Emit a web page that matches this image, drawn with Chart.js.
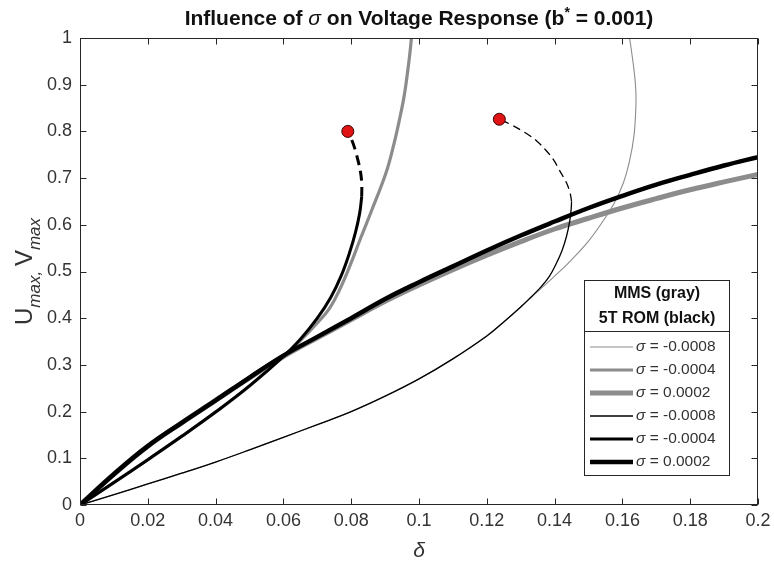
<!DOCTYPE html>
<html>
<head>
<meta charset="utf-8">
<script src="https://cdn.jsdelivr.net/npm/chart.js@4.4.1/dist/chart.umd.min.js"></script>
<style>
  html, body { margin: 0; padding: 0; background: #fff; }
</style>
</head>
<body>
<canvas id="chart" width="774" height="569"></canvas>
<script>
// MMS curves (gray)
const mmsThinX = [0, 0.01, 0.02, 0.03, 0.04, 0.05, 0.06, 0.07, 0.08, 0.09, 0.1, 0.11, 0.12, 0.125, 0.13, 0.135, 0.14, 0.145, 0.15, 0.154, 0.1575, 0.1603, 0.1622, 0.1634, 0.1639, 0.164, 0.1636, 0.163, 0.1621, 0.161];
const mmsThinY = [0, 0.022, 0.045, 0.068, 0.092, 0.118, 0.145, 0.172, 0.2, 0.233, 0.27, 0.313, 0.362, 0.392, 0.424, 0.457, 0.49, 0.525, 0.565, 0.605, 0.645, 0.69, 0.74, 0.79, 0.84, 0.88, 0.92, 0.955, 1.0, 1.04];
const mmsMidX = [0, 0.01, 0.02, 0.03, 0.04, 0.05, 0.06, 0.065, 0.07, 0.0735, 0.0765, 0.0795, 0.0826, 0.086, 0.0903, 0.0925, 0.0942, 0.0956, 0.0967, 0.0975, 0.0981];
const mmsMidY = [0, 0.048, 0.097, 0.147, 0.199, 0.255, 0.318, 0.352, 0.39, 0.42, 0.46, 0.51, 0.568, 0.63, 0.712, 0.77, 0.824, 0.875, 0.931, 0.98, 1.03];
const mmsThickX = [0, 0.01, 0.02, 0.03, 0.04, 0.05, 0.06, 0.07, 0.08, 0.09, 0.1, 0.11, 0.12, 0.13, 0.14, 0.15, 0.16, 0.17, 0.18, 0.19, 0.2];
const mmsThickY = [0, 0.066, 0.126, 0.176, 0.224, 0.272, 0.318, 0.358, 0.397, 0.436, 0.471, 0.504, 0.535, 0.564, 0.591, 0.614, 0.636, 0.656, 0.675, 0.692, 0.708];

// 5T ROM curves (black), solid part then dashed continuation
const romThinX = [0, 0.01, 0.02, 0.03, 0.04, 0.05, 0.06, 0.07, 0.08, 0.09, 0.1, 0.11, 0.12, 0.125, 0.13, 0.133, 0.136, 0.1385, 0.1405, 0.1422, 0.1435, 0.1444, 0.1449, 0.145];
const romThinY = [0, 0.022, 0.045, 0.068, 0.092, 0.118, 0.145, 0.172, 0.2, 0.233, 0.27, 0.313, 0.362, 0.392, 0.424, 0.445, 0.467, 0.49, 0.517, 0.545, 0.575, 0.605, 0.635, 0.65];
const romThinDashX = [0.145, 0.1446, 0.1435, 0.1414, 0.1398, 0.1375, 0.1348, 0.1316, 0.1267, 0.1237];
const romThinDashY = [0.65, 0.667, 0.69, 0.717, 0.738, 0.759, 0.779, 0.796, 0.816, 0.826];
const romMidX = [0, 0.01, 0.02, 0.03, 0.04, 0.05, 0.06, 0.065, 0.07, 0.074, 0.077, 0.0795, 0.0813, 0.0825, 0.0831];
const romMidY = [0, 0.048, 0.097, 0.147, 0.199, 0.255, 0.318, 0.355, 0.4, 0.445, 0.49, 0.54, 0.585, 0.625, 0.66];
const romMidDashX = [0.0831, 0.0831, 0.0827, 0.082, 0.0812, 0.0802, 0.079];
const romMidDashY = [0.66, 0.69, 0.715, 0.738, 0.76, 0.781, 0.8];
const romThickX = [0, 0.01, 0.02, 0.03, 0.04, 0.05, 0.06, 0.07, 0.08, 0.09, 0.1, 0.11, 0.12, 0.13, 0.14, 0.15, 0.16, 0.17, 0.18, 0.19, 0.2];
const romThickY = [0, 0.066, 0.126, 0.176, 0.224, 0.273, 0.32, 0.36, 0.4, 0.441, 0.477, 0.511, 0.545, 0.577, 0.607, 0.636, 0.662, 0.686, 0.707, 0.727, 0.745];

// end points of the ROM branches
const markerX = [0.079, 0.1237];
const markerY = [0.8, 0.826];

const sigmaLabels = ['-0.0008', '-0.0004', '0.0002'];
const xTicks = [0, 0.02, 0.04, 0.06, 0.08, 0.1, 0.12, 0.14, 0.16, 0.18, 0.2];
const xTickLabels = ['0', '0.02', '0.04', '0.06', '0.08', '0.1', '0.12', '0.14', '0.16', '0.18', '0.2'];
const yTicks = [0, 0.1, 0.2, 0.3, 0.4, 0.5, 0.6, 0.7, 0.8, 0.9, 1];
const yTickLabels = ['0', '0.1', '0.2', '0.3', '0.4', '0.5', '0.6', '0.7', '0.8', '0.9', '1'];

const FONT = '"Liberation Sans", Arial, Helvetica, sans-serif';
const GRAY = 'rgb(140,140,140)';
const AXIS = '#262626';
const TEXT = '#333';

const pts = (xs, ys) => xs.map((x, i) => ({x: x, y: ys[i]}));

function line(label, xs, ys, color, width, order, dash) {
    return {
        label: label,
        data: pts(xs, ys),
        borderColor: color,
        borderWidth: width,
        borderDash: dash || [],
        pointRadius: 0,
        tension: 0.4,
        fill: false,
        order: order
    };
}

const mmsSets = [
    line(sigmaLabels[0], mmsThinX, mmsThinY, GRAY, 1.1, 2),
    line(sigmaLabels[1], mmsMidX, mmsMidY, GRAY, 3.2, 2),
    line(sigmaLabels[2], mmsThickX, mmsThickY, GRAY, 5, 2)
];
const romSets = [
    line(sigmaLabels[0], romThinX, romThinY, '#000', 1.3, 1),
    line(sigmaLabels[1], romMidX, romMidY, '#000', 3, 1),
    line(sigmaLabels[2], romThickX, romThickY, '#000', 4.5, 1)
];
const dashSets = [
    line('', romThinDashX, romThinDashY, '#000', 1.3, 1, [8, 5]),
    line('', romMidDashX, romMidDashY, '#000', 3, 1, [10, 6])
];
const markers = {
    label: '',
    type: 'scatter',
    data: pts(markerX, markerY),
    pointRadius: 6,
    pointBackgroundColor: '#e01414',
    pointBorderColor: '#3a0000',
    pointBorderWidth: 1,
    showLine: false,
    order: 0
};

function richText(ctx, runs, x, y) {
    let w = 0;
    runs.forEach(r => { ctx.font = r.font; r.w = ctx.measureText(r.t).width; w += r.w; });
    let cx = x - w / 2;
    ctx.textAlign = 'left';
    runs.forEach(r => { ctx.font = r.font; ctx.fillText(r.t, cx, y + (r.dy || 0)); cx += r.w; });
}

const decor = {
    id: 'decor',
    afterDatasetsDraw(chart) {
        const {ctx, chartArea: a, scales: {x, y}} = chart;
        ctx.save();
        // box and inward ticks
        ctx.strokeStyle = AXIS;
        ctx.lineWidth = 1;
        const L = Math.round(a.left) + 0.5, R = Math.round(a.right) - 0.5;
        const T = Math.round(a.top) + 0.5, B = Math.round(a.bottom) - 0.5;
        ctx.strokeRect(L, T, R - L, B - T);
        ctx.beginPath();
        xTicks.forEach(v => {
            const px = Math.round(x.getPixelForValue(v)) + 0.5;
            ctx.moveTo(px, B); ctx.lineTo(px, B - 6);
            ctx.moveTo(px, T); ctx.lineTo(px, T + 6);
        });
        yTicks.forEach(v => {
            const py = Math.round(y.getPixelForValue(v)) + 0.5;
            ctx.moveTo(L, py); ctx.lineTo(L + 6, py);
            ctx.moveTo(R, py); ctx.lineTo(R - 6, py);
        });
        ctx.stroke();

        // legend
        const bx = 584.5, by = 280.5, bw = 145, bh = 195;
        ctx.fillStyle = '#fff';
        ctx.fillRect(bx, by, bw, bh);
        ctx.strokeRect(bx, by, bw, bh);
        ctx.beginPath();
        ctx.moveTo(bx, 331.5); ctx.lineTo(bx + bw, 331.5);
        ctx.stroke();
        ctx.fillStyle = '#111';
        ctx.textBaseline = 'middle';
        ctx.textAlign = 'center';
        ctx.font = 'bold 16px ' + FONT;
        ctx.fillText('MMS (gray)', bx + bw / 2, 294);
        ctx.fillText('5T ROM (black)', bx + bw / 2, 319);
        const entries = mmsSets.concat(romSets);
        entries.forEach((d, i) => {
            const ry = 347 + i * 23;
            ctx.beginPath();
            ctx.strokeStyle = d.borderColor;
            ctx.lineWidth = d.borderWidth;
            ctx.moveTo(590, ry); ctx.lineTo(633, ry);
            ctx.stroke();
            ctx.textAlign = 'left';
            ctx.fillStyle = TEXT;
            ctx.font = 'italic 15.5px ' + FONT;
            ctx.fillText('\u03c3', 636, ry);
            const sw = ctx.measureText('\u03c3').width;
            ctx.font = '15.5px ' + FONT;
            ctx.fillText(' = ' + d.label, 636 + sw, ry);
        });
        ctx.restore();
    },
    afterDraw(chart) {
        const {ctx, chartArea: a} = chart;
        const cx = (a.left + a.right) / 2;
        ctx.save();
        ctx.fillStyle = '#111';
        ctx.textBaseline = 'alphabetic';
        const b = 'bold 21px ' + FONT;
        richText(ctx, [
            {t: 'Influence of ', font: b},
            {t: '\u03c3', font: 'italic 21px ' + FONT},
            {t: ' on Voltage Response (b', font: b},
            {t: '*', font: 'bold 14px ' + FONT, dy: -8},
            {t: ' = 0.001)', font: b}
        ], cx, 25);

        ctx.fillStyle = TEXT;
        ctx.font = 'italic 21px ' + FONT;
        ctx.textAlign = 'center';
        ctx.fillText('\u03b4', cx, 557);

        ctx.translate(32, (a.top + a.bottom) / 2);
        ctx.rotate(-Math.PI / 2);
        const n = '24px ' + FONT, s = 'italic 17px ' + FONT;
        richText(ctx, [
            {t: 'U', font: n},
            {t: 'max', font: s, dy: 8},
            {t: ', ', font: s, dy: 8},
            {t: 'V', font: n},
            {t: 'max', font: s, dy: 8}
        ], 0, 0);
        ctx.restore();
    }
};

new Chart(document.getElementById('chart'), {
    type: 'line',
    data: {
        datasets: romSets.concat(dashSets, mmsSets, [markers])
    },
    options: {
        responsive: false,
        animation: false,
        layout: {padding: {left: 0, right: 16, top: 38, bottom: 0}},
        plugins: {
            legend: {display: false},
            tooltip: {enabled: false},
            title: {display: false}
        },
        scales: {
            x: {
                type: 'linear',
                min: 0,
                max: 0.2,
                grid: {display: false, drawTicks: false},
                border: {display: false},
                afterBuildTicks: s => { s.ticks = xTicks.map(v => ({value: v})); },
                afterFit: s => { s.height = 64; s.paddingLeft = 0; s.paddingRight = 0; },
                ticks: {
                    autoSkip: false,
                    maxRotation: 0,
                    padding: 5,
                    color: TEXT,
                    font: {family: FONT, size: 18},
                    callback: (v, i) => xTickLabels[i]
                }
            },
            y: {
                type: 'linear',
                min: 0,
                max: 1,
                grid: {display: false, drawTicks: false},
                border: {display: false},
                afterBuildTicks: s => { s.ticks = yTicks.map(v => ({value: v})); },
                afterFit: s => { s.width = 80; s.paddingTop = 0; s.paddingBottom = 0; },
                ticks: {
                    autoSkip: false,
                    padding: 8,
                    color: TEXT,
                    font: {family: FONT, size: 18},
                    callback: (v, i) => yTickLabels[i]
                }
            }
        }
    },
    plugins: [decor]
});
</script>
</body>
</html>
